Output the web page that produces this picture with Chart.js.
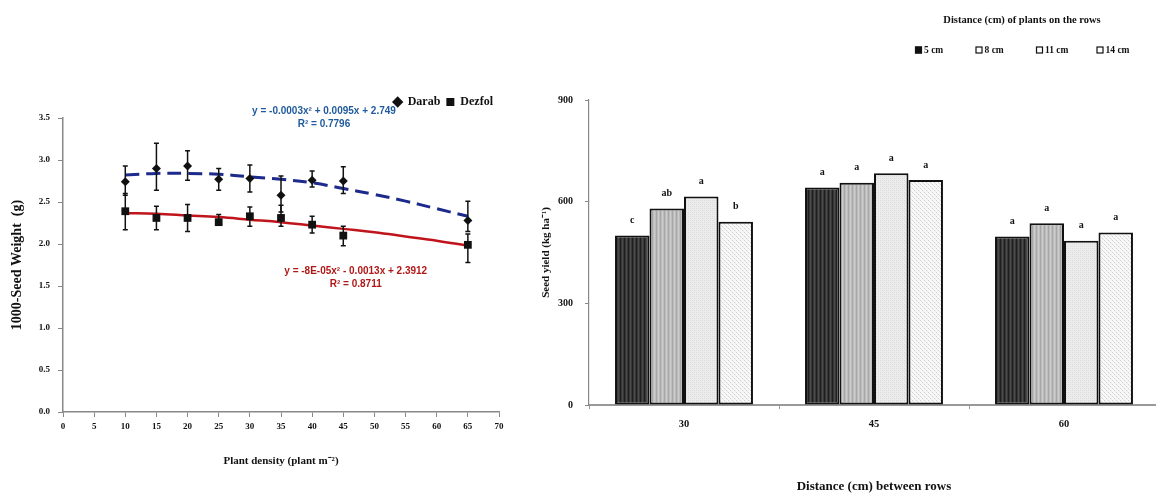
<!DOCTYPE html>
<html><head><meta charset="utf-8">
<script src="https://cdn.jsdelivr.net/npm/chart.js@4.4.0/dist/chart.umd.min.js"></script>
<style>
html,body{margin:0;padding:0;background:#fff;overflow:hidden;width:1156px;height:495px;}
#c1{position:absolute;left:0;top:0;}
#c2{position:absolute;left:540px;top:0;}
</style></head><body>
<canvas id="c1" width="540" height="495"></canvas>
<canvas id="c2" width="640" height="495"></canvas>
<script>
// ---------- Left chart data: 1000-seed weight vs plant density ----------
const density = [10, 15, 20, 25, 30, 35, 40, 45, 65];
const darab      = [2.74, 2.90, 2.93, 2.77, 2.78, 2.58, 2.76, 2.75, 2.28];
const darabHigh  = [2.93, 3.20, 3.11, 2.90, 2.94, 2.81, 2.87, 2.92, 2.51];
const darabLow   = [2.58, 2.64, 2.76, 2.64, 2.62, 2.38, 2.68, 2.60, 2.15];
const dezfol     = [2.39, 2.31, 2.31, 2.26, 2.33, 2.31, 2.23, 2.10, 1.99];
const dezfolHigh = [2.60, 2.45, 2.47, 2.35, 2.44, 2.46, 2.33, 2.21, 2.12];
const dezfolLow  = [2.17, 2.17, 2.15, 2.23, 2.21, 2.21, 2.13, 1.98, 1.78];
const trendX      = [10, 15, 20, 25, 30, 35, 40, 45, 50, 55, 60, 65];
const darabTrend  = [2.82, 2.84, 2.84, 2.83, 2.80, 2.77, 2.73, 2.66, 2.59, 2.51, 2.42, 2.33];
const dezfolTrend = [2.37, 2.36, 2.34, 2.32, 2.29, 2.26, 2.22, 2.18, 2.14, 2.09, 2.04, 1.98];
const seriesNames = ['Darab', 'Dezfol'];
const darabEq  = ['y = -0.0003x\u00B2 + 0.0095x + 2.749', 'R\u00B2 = 0.7796'];
const dezfolEq = ['y = -8E-05x\u00B2 - 0.0013x + 2.3912', 'R\u00B2 = 0.8711'];

// ---------- Right chart data: seed yield ----------
const rowDistances = ['30', '45', '60'];
const plantDistances = ['5 cm', '8 cm', '11 cm', '14 cm'];
const yield5  = [500, 642, 497];
const yield8  = [580, 656, 536];
const yield11 = [615, 684, 485];
const yield14 = [541, 664, 509];
const letters5  = ['c', 'a', 'a'];
const letters8  = ['ab', 'a', 'a'];
const letters11 = ['a', 'a', 'a'];
const letters14 = ['b', 'a', 'a'];
const yTicksRight = [0, 300, 600, 900];

const SERIF = "'Liberation Serif','Times New Roman',serif";
const NARROW = "'Liberation Sans Narrow','Arial Narrow','Liberation Sans',Arial,sans-serif";

// ---------- Left chart plugins ----------
const errorBars = {
  id: 'errorBars',
  afterDatasetsDraw(chart, args, opts) {
    const {ctx, scales: {x, y}} = chart;
    ctx.save();
    ctx.strokeStyle = '#111';
    ctx.lineWidth = 1.5;
    opts.sets.forEach(s => {
      density.forEach((d, i) => {
        const px = x.getPixelForValue(d);
        const pt = y.getPixelForValue(s.high[i]);
        const pb = y.getPixelForValue(s.low[i]);
        ctx.beginPath();
        ctx.moveTo(px, pt); ctx.lineTo(px, pb);
        ctx.moveTo(px - 2.5, pt); ctx.lineTo(px + 2.5, pt);
        ctx.moveTo(px - 2.5, pb); ctx.lineTo(px + 2.5, pb);
        ctx.stroke();
      });
    });
    ctx.restore();
  }
};
const equations = {
  id: 'equations',
  afterDraw(chart, args, opts) {
    const {ctx, scales: {x, y}} = chart;
    ctx.save();
    ctx.font = 'bold 10px ' + NARROW;
    ctx.textAlign = 'center';
    ctx.textBaseline = 'middle';
    opts.items.forEach(it => {
      ctx.fillStyle = it.color;
      it.lines.forEach((t, k) => {
        ctx.fillText(t, x.getPixelForValue(it.x), y.getPixelForValue(it.ys[k]));
      });
    });
    ctx.restore();
  }
};

const pts = (xs, ys) => xs.map((v, i) => ({x: v, y: ys[i]}));

new Chart(document.getElementById('c1'), {
  type: 'scatter',
  data: {
    datasets: [
      {label: seriesNames[0], data: pts(density, darab), pointStyle: 'rectRot', pointRadius: 4.5,
       backgroundColor: '#111', borderColor: '#111', borderWidth: 0, showLine: false},
      {label: seriesNames[1], data: pts(density, dezfol), pointStyle: 'rect', pointRadius: 5.5,
       backgroundColor: '#111', borderColor: '#111', borderWidth: 0, showLine: false},
      {label: 'Darab trend', data: pts(trendX, darabTrend), showLine: true, pointRadius: 0,
       borderColor: '#1c2a8c', borderWidth: 3, borderDash: [14, 7], tension: 0.4, fill: false},
      {label: 'Dezfol trend', data: pts(trendX, dezfolTrend), showLine: true, pointRadius: 0,
       borderColor: '#c0141c', borderWidth: 2.5, tension: 0.4, fill: false}
    ]
  },
  options: {
    responsive: false, animation: false,
    layout: {padding: {top: 90, left: 0, right: 41, bottom: 0}},
    plugins: {
      legend: {
        display: true, position: 'top', align: 'end',
        labels: {
          filter: (item) => seriesNames.includes(item.text),
          usePointStyle: true, boxWidth: 8, boxHeight: 8, padding: 6,
          color: '#111', font: {family: SERIF, size: 12, weight: 'bold'}
        }
      },
      tooltip: {enabled: false},
      errorBars: {sets: [{high: darabHigh, low: darabLow}, {high: dezfolHigh, low: dezfolLow}]},
      equations: {items: [
        {lines: darabEq, x: 41.9, ys: [3.583, 3.43], color: '#1f5a9c'},
        {lines: dezfolEq, x: 47.0, ys: [1.679, 1.524], color: '#b01818'}
      ]}
    },
    scales: {
      x: {
        type: 'linear', min: 0, max: 70,
        afterFit(s) { s.height = 83; },
        ticks: {stepSize: 5, color: '#111', padding: 4, font: {family: SERIF, size: 9, weight: 'bold'}},
        grid: {drawOnChartArea: false, drawTicks: true, tickLength: 5, color: '#888'},
        border: {display: true, color: '#888', width: 1.5},
        title: {display: true, text: 'Plant density (plant m\u207B\u00B2)', color: '#111',
                font: {family: SERIF, size: 11, weight: 'bold'}, padding: {top: 0, bottom: 27}}
      },
      y: {
        min: 0, max: 3.5,
        afterFit(s) { s.width = 63; },
        ticks: {stepSize: 0.5, color: '#111', padding: 8, callback: v => v.toFixed(1),
                font: {family: SERIF, size: 9, weight: 'bold'}},
        grid: {drawOnChartArea: false, drawTicks: true, tickLength: 5, color: '#888'},
        border: {display: true, color: '#888', width: 1.5},
        title: {display: true, text: '1000-Seed Weight  (g)', color: '#111',
                font: {family: SERIF, size: 14, weight: 'bold'}, padding: {top: 9, bottom: 0}}
      }
    }
  },
  plugins: [errorBars, equations]
});

// ---------- Right chart ----------
function makePattern(kind) {
  const c = document.createElement('canvas');
  c.width = 4; c.height = 4;
  const g = c.getContext('2d');
  if (kind === 0) {
    g.fillStyle = '#383838'; g.fillRect(0, 0, 4, 4);
    g.fillStyle = '#1e1e1e'; g.fillRect(0, 0, 1, 4);
    g.fillStyle = '#4a4a4a'; g.fillRect(2, 0, 1, 4);
  } else if (kind === 1) {
    g.fillStyle = '#bdbdbd'; g.fillRect(0, 0, 4, 4);
    g.fillStyle = '#a6a6a6'; g.fillRect(0, 0, 1, 4);
    g.fillStyle = '#cccccc'; g.fillRect(2, 0, 1, 4);
  } else if (kind === 2) {
    g.fillStyle = '#ececec'; g.fillRect(0, 0, 4, 4);
    g.fillStyle = '#dadada'; g.fillRect(0, 0, 1, 1); g.fillRect(2, 2, 1, 1);
    g.fillStyle = '#e2e2e2'; g.fillRect(2, 0, 1, 1); g.fillRect(0, 2, 1, 1);
  } else {
    g.fillStyle = '#f8f8f8'; g.fillRect(0, 0, 4, 4);
    g.fillStyle = '#d0d0d0'; g.fillRect(0, 0, 1, 1); g.fillRect(2, 2, 1, 1);
    g.fillStyle = '#e4e4e4'; g.fillRect(1, 1, 1, 1); g.fillRect(3, 3, 1, 1);
  }
  return g.createPattern(c, 'repeat');
}

const barLetters = {
  id: 'barLetters',
  afterDatasetsDraw(chart, args, opts) {
    const ctx = chart.ctx;
    ctx.save();
    ctx.fillStyle = '#111';
    ctx.font = 'bold 10px ' + SERIF;
    ctx.textAlign = 'center';
    ctx.textBaseline = 'middle';
    opts.letters.forEach((arr, i) => {
      const meta = chart.getDatasetMeta(i);
      meta.data.forEach((el, j) => ctx.fillText(arr[j], el.x, el.y - 15));
    });
    ctx.restore();
  }
};
const rowLegend = {
  id: 'rowLegend',
  afterDraw(chart, args, opts) {
    const ctx = chart.ctx;
    ctx.save();
    ctx.fillStyle = '#111';
    ctx.textBaseline = 'middle';
    ctx.textAlign = 'center';
    ctx.font = 'bold 10.5px ' + SERIF;
    ctx.fillText(opts.title, opts.titleX, opts.titleY);
    ctx.textAlign = 'left';
    ctx.font = 'bold 9.5px ' + SERIF;
    chart.data.datasets.forEach((ds, i) => {
      const x = opts.x0 + i * opts.step, y = opts.y;
      ctx.fillStyle = i === 0 ? '#111' : '#fff';
      ctx.fillRect(x, y - 3.5, 7, 7);
      ctx.strokeStyle = '#111'; ctx.lineWidth = 1.2;
      ctx.strokeRect(x + 0.5, y - 3, 6, 6);
      ctx.fillStyle = '#111';
      ctx.fillText(ds.label, x + 9, y + 0.5);
    });
    ctx.restore();
  }
};

const yields = [yield5, yield8, yield11, yield14];
new Chart(document.getElementById('c2'), {
  type: 'bar',
  data: {
    labels: rowDistances,
    datasets: plantDistances.map((name, i) => ({
      label: name, data: yields[i],
      backgroundColor: makePattern(i), borderColor: '#111', borderWidth: 2,
      borderSkipped: false, categoryPercentage: 0.726, barPercentage: 1.0
    }))
  },
  options: {
    responsive: false, animation: false,
    layout: {padding: {top: 100, left: 0, right: 21, bottom: 0}},
    plugins: {
      legend: {display: false},
      tooltip: {enabled: false},
      barLetters: {letters: [letters5, letters8, letters11, letters14]},
      rowLegend: {title: 'Distance (cm) of plants on the rows', titleX: 482, titleY: 20,
                  x0: 375, step: 60.5, y: 50}
    },
    scales: {
      x: {
        afterFit(s) { s.height = 90; },
        ticks: {color: '#111', padding: 9, font: {family: SERIF, size: 10.5, weight: 'bold'}},
        grid: {drawOnChartArea: false, drawTicks: true, tickLength: 4, color: '#999', offset: true},
        border: {display: true, color: '#999', width: 2},
        title: {display: true, text: 'Distance (cm) between rows', color: '#111',
                font: {family: SERIF, size: 13, weight: 'bold'}, padding: {top: 0, bottom: 1}}
      },
      y: {
        min: 0, max: 900,
        afterFit(s) { s.width = 49; },
        afterBuildTicks(s) { s.ticks = yTicksRight.map(v => ({value: v})); },
        ticks: {color: '#111', padding: 12, font: {family: SERIF, size: 10, weight: 'bold'}},
        grid: {drawOnChartArea: false, drawTicks: true, tickLength: 4, color: '#888'},
        border: {display: true, color: '#888', width: 1.2},
        title: {display: true, text: 'Seed yield (kg ha\u207B\u00B9)', color: '#111',
                font: {family: SERIF, size: 11, weight: 'bold'}, padding: {top: 0, bottom: 0}}
      }
    }
  },
  plugins: [barLetters, rowLegend]
});
</script>
</body></html>
